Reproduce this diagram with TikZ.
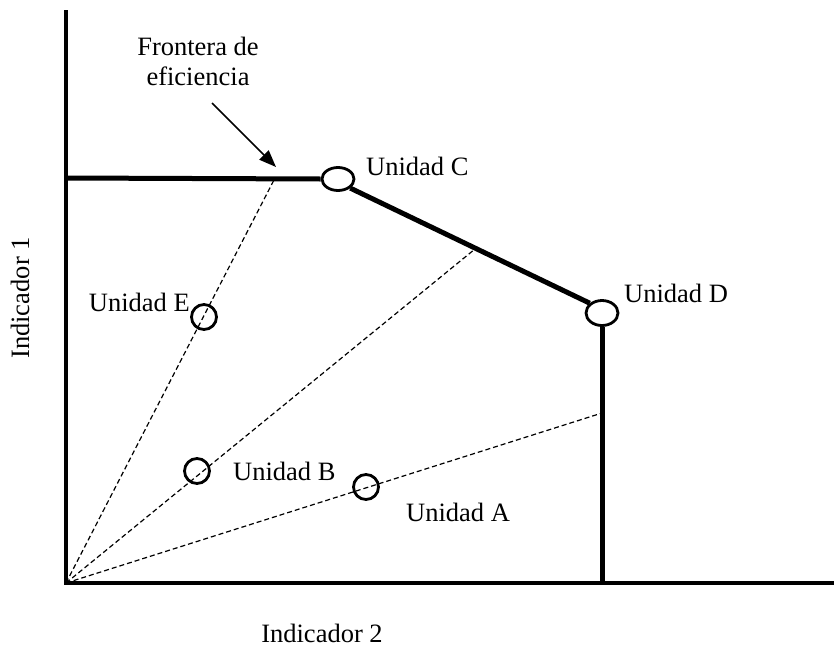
\documentclass[tikz,border=0pt]{standalone}
\usepackage{fontspec}
\setmainfont{Liberation Serif}
\usetikzlibrary{shapes.geometric,arrows.meta}
\begin{document}
\begin{tikzpicture}[x=1pt,y=-1pt,
  lbl/.style={inner sep=0pt,font=\fontsize{26.5}{30}\selectfont},
  axis/.style={line width=3.8pt},
  front/.style={line width=5pt},
  ray/.style={line width=1.2pt,dash pattern=on 5pt off 3pt},
  unit/.style={draw,ellipse,line width=2.8pt,inner sep=0pt},
  ]
\useasboundingbox (0,0) rectangle (834,648);
% axes
\coordinate (O) at (66,583);
\coordinate (Ytop) at (66,10);
\coordinate (Xend) at (834,583);
\draw[axis] (Ytop) -- (O) -- (Xend);
% rays
\coordinate (RE) at (275,178);
\coordinate (RB) at (475,249);
\coordinate (RA) at (602,413);
\draw[ray] (O) -- (RE);
\draw[ray] (O) -- (RB);
\draw[ray] (O) -- (RA);
% frontier
\coordinate (F0) at (66,178);
\coordinate (Dbot) at (602,583);
\node[unit,fill=white,minimum width=32pt,minimum height=23pt] (C) at (338,179) {};
\node[unit,fill=white,minimum width=32pt,minimum height=25pt] (D) at (602,313) {};
\draw[front] (F0) -- (C.west);
\draw[front] (C.south east) -- (D.north west);
\draw[front] (D.south) -- (Dbot);
% interior units
\node[unit,minimum width=25pt,minimum height=25pt] (E) at (204,317) {};
\node[unit,minimum width=25pt,minimum height=25pt] (B) at (197,471) {};
\node[unit,minimum width=25pt,minimum height=25pt] (A) at (366,487) {};
% labels
\node[lbl,anchor=base west] (lC) at (366,175) {Unidad C};
\node[lbl,anchor=base west] (lD) at (624,302) {Unidad D};
\node[lbl,anchor=base east] (lE) at (190,311) {Unidad E};
\node[lbl,anchor=base west] (lB) at (233,480) {Unidad B};
\node[lbl,anchor=base west] (lA) at (406,521) {Unidad A};
\node[lbl,anchor=base] (lX) at (322,642) {Indicador 2};
\node[lbl,anchor=base,rotate=90] (lY) at (29,298) {Indicador 1};
\node[lbl,anchor=base] (fr1) at (198,55) {Frontera de};
\node[lbl,anchor=base] (fr2) at (198,85) {eficiencia};
\coordinate (Ast) at (212,103);
\coordinate (Aen) at (276,167);
\draw[line width=1.5pt,-{Triangle[length=17pt,width=13pt]}] (Ast) -- (Aen);
\end{tikzpicture}
\end{document}
